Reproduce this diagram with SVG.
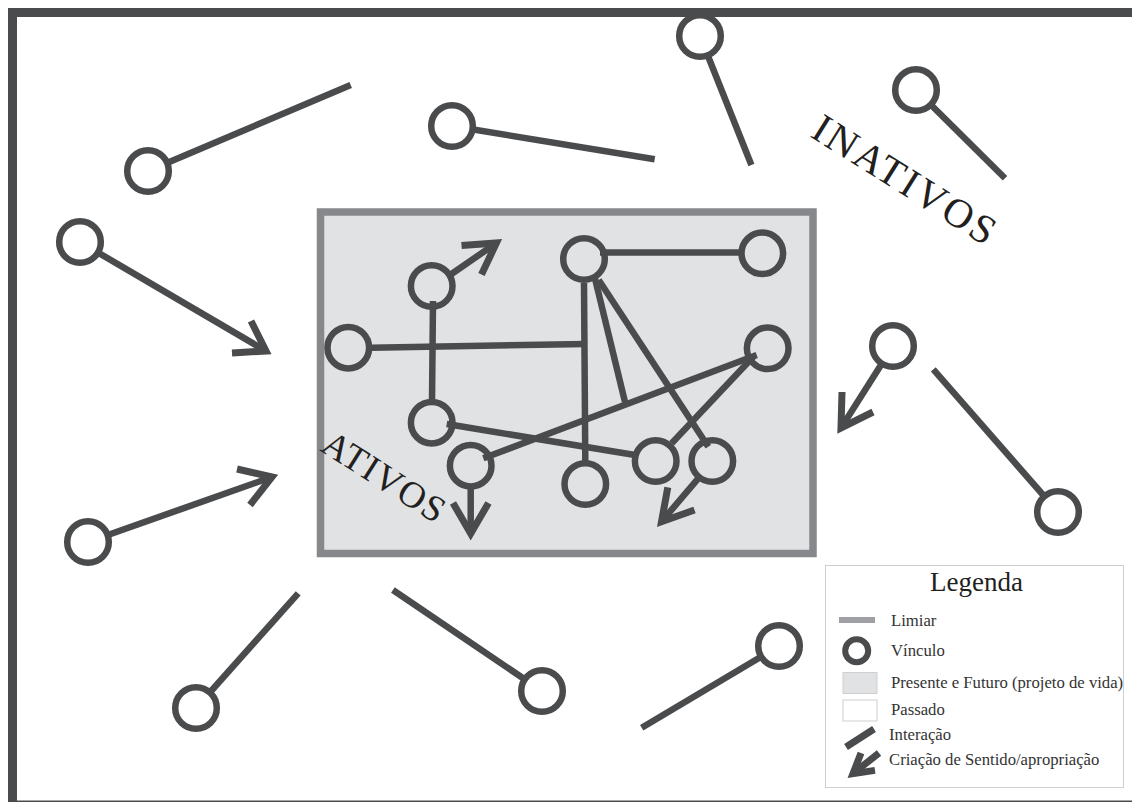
<svg xmlns="http://www.w3.org/2000/svg" width="1132" height="802" viewBox="0 0 1132 802">
<defs>
<style>
.ln{stroke:#4a4b4d;stroke-width:6.5;fill:none;stroke-linecap:butt}
.ar{stroke:#4a4b4d;stroke-width:7;fill:none;stroke-linejoin:miter;stroke-miterlimit:10}
.nd{stroke:#4a4b4d;stroke-width:6.5;fill:#ffffff}
.ni{stroke:#4a4b4d;stroke-width:6.5;fill:none}
.big{font-family:"Liberation Serif",serif;fill:#231f20}
.lg{font-family:"Liberation Serif",serif;font-size:16.7px;fill:#333333}
</style>
</defs>
<rect width="1132" height="802" fill="#ffffff"/>
<g id="frame">
<path d="M12.5,802 V12.5 H1132" fill="none" stroke="#4a4b4d" stroke-width="9"/>
<line x1="17" y1="801.3" x2="1132" y2="801.3" stroke="#4a4b4d" stroke-width="1.5"/>
</g>
<g id="limiar">
<rect x="320.5" y="212" width="492.5" height="341.5" fill="#e1e2e4" stroke="#87888c" stroke-width="7.5"/>
</g>
<g id="connectors">
<line class="ln" x1="148" y1="171" x2="350.7" y2="85"/>
<line class="ln" x1="452" y1="126" x2="654.7" y2="159.3"/>
<line class="ln" x1="700" y1="36" x2="751.4" y2="165"/>
<line class="ln" x1="916" y1="90" x2="1005" y2="178.3"/>
<line class="ln" x1="1058" y1="512" x2="933.3" y2="369.3"/>
<line class="ln" x1="196" y1="708" x2="298.2" y2="593.3"/>
<line class="ln" x1="542" y1="691" x2="392.9" y2="590"/>
<line class="ln" x1="779" y1="646" x2="641.7" y2="727.7"/>
<line class="ln" x1="80" y1="242" x2="266" y2="351"/>
<polyline class="ar" points="251,321 266,351 232,353"/>
<line class="ln" x1="88" y1="542" x2="272" y2="477"/>
<polyline class="ar" points="237,469 272,477 250,505"/>
<line class="ln" x1="893" y1="346" x2="841" y2="428"/>
<polyline class="ar" points="842,392 841,428 873,412"/>
<line class="ln" x1="433" y1="301" x2="432" y2="402"/>
<line class="ln" x1="371.5" y1="347.7" x2="586" y2="344"/>
<line class="ln" x1="584" y1="283" x2="585.3" y2="462"/>
<line class="ln" x1="600" y1="252.5" x2="741" y2="252.5"/>
<line class="ln" x1="595" y1="278.5" x2="625" y2="402"/>
<line class="ln" x1="598.7" y1="280" x2="708.3" y2="446.7"/>
<line class="ln" x1="483.3" y1="458.3" x2="756.7" y2="355"/>
<line class="ln" x1="753.3" y1="356.7" x2="671.7" y2="443.3"/>
<line class="ln" x1="446.7" y1="424" x2="635" y2="455"/>
<line class="ln" x1="450" y1="275" x2="496.4" y2="243"/>
<polyline class="ar" points="461.5,245.5 496.4,243 481.5,274.5"/>
<line class="ln" x1="470.7" y1="487" x2="470.7" y2="533.5"/>
<polyline class="ar" points="453,503 470.7,533.5 488.5,503"/>
<line class="ln" x1="698.3" y1="478.3" x2="661.5" y2="521.7"/>
<polyline class="ar" points="667.8,487.3 661.5,521.7 694.5,510"/>
</g>
<g id="node-o1"><circle class="nd" cx="148" cy="171" r="20.8"/></g>
<g id="node-o2"><circle class="nd" cx="452" cy="126" r="20.8"/></g>
<g id="node-o3"><circle class="nd" cx="700" cy="36" r="20.8"/></g>
<g id="node-o4"><circle class="nd" cx="916" cy="90" r="20.8"/></g>
<g id="node-o5"><circle class="nd" cx="80" cy="242" r="20.8"/></g>
<g id="node-o6"><circle class="nd" cx="893" cy="346" r="20.8"/></g>
<g id="node-o7"><circle class="nd" cx="1058" cy="512" r="20.8"/></g>
<g id="node-o8"><circle class="nd" cx="88" cy="542" r="20.8"/></g>
<g id="node-o9"><circle class="nd" cx="196" cy="708" r="20.8"/></g>
<g id="node-o10"><circle class="nd" cx="542" cy="691" r="20.8"/></g>
<g id="node-o11"><circle class="nd" cx="779" cy="646" r="20.8"/></g>
<g id="node-i1"><circle class="ni" cx="431.7" cy="286" r="20.8"/></g>
<g id="node-i2"><circle class="ni" cx="348.3" cy="347.7" r="20.8"/></g>
<g id="node-i3"><circle class="ni" cx="584" cy="259" r="20.8"/></g>
<g id="node-i4"><circle class="ni" cx="762.3" cy="253.3" r="20.8"/></g>
<g id="node-i5"><circle class="ni" cx="767.7" cy="348.3" r="20.8"/></g>
<g id="node-i6"><circle class="ni" cx="431.7" cy="422.7" r="20.8"/></g>
<g id="node-i7"><circle class="ni" cx="470.7" cy="465.7" r="20.8"/></g>
<g id="node-i8"><circle class="ni" cx="585.3" cy="484" r="20.8"/></g>
<g id="node-i9"><circle class="ni" cx="655.7" cy="461" r="20.8"/></g>
<g id="node-i10"><circle class="ni" cx="712.3" cy="461" r="20.8"/></g>
<g id="labels">
<text class="big" font-size="41" transform="translate(809,136) rotate(32)" textLength="208" lengthAdjust="spacing">INATIVOS</text>
<text class="big" font-size="37" transform="translate(319,450) rotate(32.4)" textLength="138" lengthAdjust="spacing">ATIVOS</text>
</g>
<g id="legend">
<rect x="825.5" y="565.5" width="298" height="222" fill="#ffffff" stroke="#cfcfcf" stroke-width="1"/>
<text class="big" x="976.5" y="591" font-size="27" text-anchor="middle" fill="#333333">Legenda</text>
<rect x="839" y="617" width="36" height="6" fill="#9fa0a4"/>
<text class="lg" x="891" y="626">Limiar</text>
<circle cx="856.7" cy="650.7" r="11.5" fill="none" stroke="#4a4b4d" stroke-width="6"/>
<text class="lg" x="891" y="656">Vínculo</text>
<rect x="843" y="672.5" width="34" height="21" fill="#e1e2e4" stroke="#cfcfcf" stroke-width="1"/>
<text class="lg" x="891" y="688">Presente e Futuro (projeto de vida)</text>
<rect x="843" y="700" width="34" height="21" fill="#ffffff" stroke="#cfcfcf" stroke-width="1"/>
<text class="lg" x="891" y="715">Passado</text>
<line x1="846" y1="747" x2="874" y2="729" stroke="#4a4b4d" stroke-width="7"/>
<text class="lg" x="889" y="740">Interação</text>
<line x1="879" y1="753" x2="853" y2="773.6" stroke="#4a4b4d" stroke-width="7"/>
<polyline points="861,753 853,773.6 875,770.4" fill="none" stroke="#4a4b4d" stroke-width="7" stroke-miterlimit="10"/>
<text class="lg" x="889" y="764.5">Criação de Sentido/apropriação</text>
</g>
</svg>
